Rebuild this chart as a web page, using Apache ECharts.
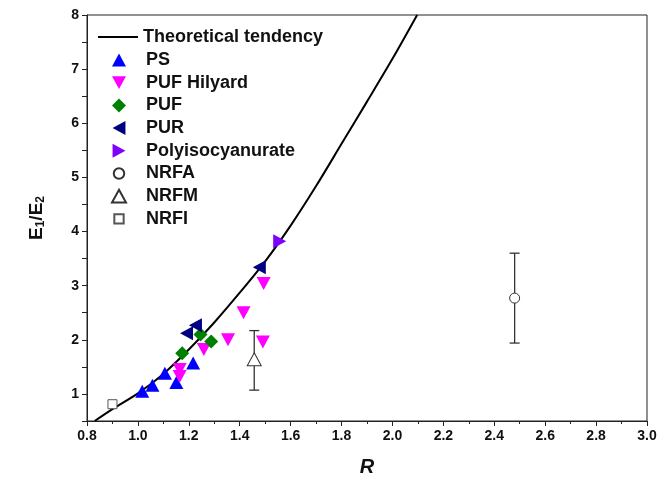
<!DOCTYPE html>
<html>
<head>
<meta charset="utf-8">
<script src="https://cdn.jsdelivr.net/npm/echarts@6/dist/echarts.min.js"></script>
<style>
  html, body { margin: 0; padding: 0; background: #ffffff; }
  #chart { width: 672px; height: 490px; }
</style>
</head>
<body>
<div id="chart"></div>
<script>
// Theoretical tendency curve (R, E1/E2)
const curveR = [0.83, 0.9, 1.0, 1.1, 1.2, 1.3, 1.4, 1.5, 1.6, 1.7, 1.8, 1.9, 2.0, 2.097];
const curveE = [0.5, 0.72, 1.01, 1.37, 1.82, 2.32, 2.87, 3.45, 4.11, 4.84, 5.62, 6.40, 7.19, 8.0];

// Measured ratios
const psR = [1.017, 1.057, 1.106, 1.151, 1.217];
const psE = [1.05, 1.16, 1.38, 1.21, 1.57];

const pufHilyardR = [1.164, 1.164, 1.259, 1.354, 1.415, 1.494, 1.491];
const pufHilyardE = [1.45, 1.32, 1.82, 2.00, 2.50, 3.04, 1.96];

const pufR = [1.174, 1.246, 1.288];
const pufE = [1.75, 2.10, 1.97];

const purR = [1.191, 1.226, 1.477];
const purE = [2.12, 2.27, 3.34];

const polyisoR = [1.557];
const polyisoE = [3.82];

// Natural-fibre samples with min / max range
const nrfaR = [2.48];
const nrfaE = [2.77];
const nrfaLow = [1.94];
const nrfaHigh = [3.60];

const nrfmR = [1.457];
const nrfmE = [1.64];
const nrfmLow = [1.07];
const nrfmHigh = [2.17];

const nrfiR = [0.9];
const nrfiE = [0.81];

// Axis ticks
const xTicks = [0.8, 1.0, 1.2, 1.4, 1.6, 1.8, 2.0, 2.2, 2.4, 2.6, 2.8, 3.0];
const yTicks = [1, 2, 3, 4, 5, 6, 7, 8];

const pairs = (xs, ys) => xs.map((x, i) => [x, ys[i]]);
const FONT = '"Liberation Sans", Arial, sans-serif';

const errData = nrfaR.map((x, i) => [x, nrfaLow[i], nrfaHigh[i]])
  .concat(nrfmR.map((x, i) => [x, nrfmLow[i], nrfmHigh[i]]));

// Marker shapes (also used as legend icons)
const ICON_UP = 'path://M6,0L12,11L0,11Z';
const ICON_DOWN = 'path://M0,0L12,0L6,11Z';
const ICON_LEFT = 'path://M11,0L11,12L0,6Z';
const ICON_RIGHT = 'path://M0,0L0,12L11,6Z';
const ICON_DIAMOND = 'path://M6,0L12,6L6,12L0,6Z';

const legendText = { fontFamily: FONT, fontSize: 18, fontWeight: 'bold', color: '#111' };

const chart = echarts.init(document.getElementById('chart'), null, { renderer: 'canvas' });

const option = {
  backgroundColor: '#ffffff',
  animation: false,
  grid: {
    left: 87, right: 25, top: 15, bottom: 69,
    show: true, borderColor: '#222', borderWidth: 1
  },
  legend: [
    {
      orient: 'vertical',
      left: 98, top: 28, padding: 0,
      itemWidth: 40, itemHeight: 2,
      textStyle: legendText,
      data: [{ name: 'Theoretical tendency', icon: 'rect' }]
    },
    {
      orient: 'vertical',
      left: 111, top: 51, padding: 0,
      itemWidth: 14, itemHeight: 14, itemGap: 4.7,
      textStyle: Object.assign({ padding: [0, 0, 0, 15] }, legendText),
      data: [
        { name: 'PS', icon: ICON_UP },
        { name: 'PUF Hilyard', icon: ICON_DOWN },
        { name: 'PUF', icon: ICON_DIAMOND },
        { name: 'PUR', icon: ICON_LEFT },
        { name: 'Polyisocyanurate', icon: ICON_RIGHT },
        { name: 'NRFA', icon: 'path://M0,0M12,12M1.5,6A4.5,4.5,0,1,1,10.5,6A4.5,4.5,0,1,1,1.5,6Z' },
        { name: 'NRFM', icon: ICON_UP },
        { name: 'NRFI', icon: 'path://M0,0M12,12M2,2L10,2L10,10L2,10Z' }
      ]
    }
  ],
  xAxis: {
    type: 'value',
    min: 0.8, max: 3.0, interval: 0.2,
    name: 'R',
    nameLocation: 'middle',
    nameGap: 36,
    nameTextStyle: { fontFamily: FONT, fontSize: 20, fontWeight: 'bold', fontStyle: 'italic', color: '#111' },
    axisLine: { onZero: false, lineStyle: { color: '#222', width: 1 } },
    axisTick: { show: true, inside: false, length: 5, lineStyle: { color: '#222' } },
    minorTick: { show: true, splitNumber: 2, length: 3, lineStyle: { color: '#222' } },
    splitLine: { show: false },
    axisLabel: {
      fontFamily: FONT, fontSize: 14, fontWeight: 'bold', color: '#111', margin: 8,
      customValues: xTicks,
      formatter: v => Number(v).toFixed(1)
    }
  },
  yAxis: {
    type: 'value',
    min: 0.5, max: 8, interval: 0.5,
    name: '{m|E}{s|1}{m|/E}{s|2}',
    nameLocation: 'middle',
    nameGap: 40,
    nameRotate: 90,
    nameTextStyle: {
      rich: {
        m: { fontFamily: FONT, fontSize: 19, fontWeight: 'bold', color: '#111' },
        s: { fontFamily: FONT, fontSize: 12, fontWeight: 'bold', color: '#111', padding: [9, 0, 0, 0] }
      }
    },
    axisLine: { onZero: false, lineStyle: { color: '#222', width: 1 } },
    axisTick: { show: true, inside: false, length: 5, lineStyle: { color: '#222' } },
    splitLine: { show: false },
    axisLabel: {
      fontFamily: FONT, fontSize: 14, fontWeight: 'bold', color: '#111', margin: 8,
      customValues: yTicks,
      formatter: v => String(Math.round(v))
    }
  },
  series: [
    {
      name: 'Theoretical tendency',
      type: 'line',
      data: pairs(curveR, curveE),
      smooth: 0.3,
      symbol: 'none',
      lineStyle: { color: '#000', width: 2 },
      itemStyle: { color: '#000' },
      z: 3
    },
    {
      name: 'PS', type: 'scatter', data: pairs(psR, psE),
      symbol: ICON_UP, symbolSize: [14, 13],
      itemStyle: { color: '#0000ff', opacity: 1 }, z: 5
    },
    {
      name: 'PUF Hilyard', type: 'scatter', data: pairs(pufHilyardR, pufHilyardE),
      symbol: ICON_DOWN, symbolSize: [14, 13],
      itemStyle: { color: '#ff00ff', opacity: 1 }, z: 5
    },
    {
      name: 'PUF', type: 'scatter', data: pairs(pufR, pufE),
      symbol: ICON_DIAMOND, symbolSize: 14,
      itemStyle: { color: '#008000', opacity: 1 }, z: 5
    },
    {
      name: 'PUR', type: 'scatter', data: pairs(purR, purE),
      symbol: ICON_LEFT, symbolSize: [13, 14],
      itemStyle: { color: '#000080', opacity: 1 }, z: 5
    },
    {
      name: 'Polyisocyanurate', type: 'scatter', data: pairs(polyisoR, polyisoE),
      symbol: ICON_RIGHT, symbolSize: [13, 14],
      itemStyle: { color: '#8000ff', opacity: 1 }, z: 5
    },
    {
      name: 'range', type: 'custom', data: errData,
      renderItem: function (params, api) {
        const top = api.coord([api.value(0), api.value(2)]);
        const bot = api.coord([api.value(0), api.value(1)]);
        const hw = 5;
        const style = { stroke: '#333', lineWidth: 1.3 };
        return {
          type: 'group',
          children: [
            { type: 'line', shape: { x1: top[0], y1: top[1], x2: bot[0], y2: bot[1] }, style },
            { type: 'line', shape: { x1: top[0] - hw, y1: top[1], x2: top[0] + hw, y2: top[1] }, style },
            { type: 'line', shape: { x1: bot[0] - hw, y1: bot[1], x2: bot[0] + hw, y2: bot[1] }, style }
          ]
        };
      },
      z: 4, silent: true
    },
    {
      name: 'NRFA', type: 'scatter', data: pairs(nrfaR, nrfaE),
      symbol: 'circle', symbolSize: 10,
      itemStyle: { color: '#ffffff', borderColor: '#333', borderWidth: 1, opacity: 1 }, z: 6
    },
    {
      name: 'NRFM', type: 'scatter', data: pairs(nrfmR, nrfmE),
      symbol: ICON_UP, symbolSize: [14, 13],
      itemStyle: { color: '#ffffff', borderColor: '#333', borderWidth: 1, opacity: 1 }, z: 6
    },
    {
      name: 'NRFI', type: 'scatter', data: pairs(nrfiR, nrfiE),
      symbol: 'rect', symbolSize: 9,
      itemStyle: { color: '#ffffff', borderColor: '#555', borderWidth: 1, opacity: 1 }, z: 6
    }
  ]
};

chart.setOption(option);
</script>
</body>
</html>
